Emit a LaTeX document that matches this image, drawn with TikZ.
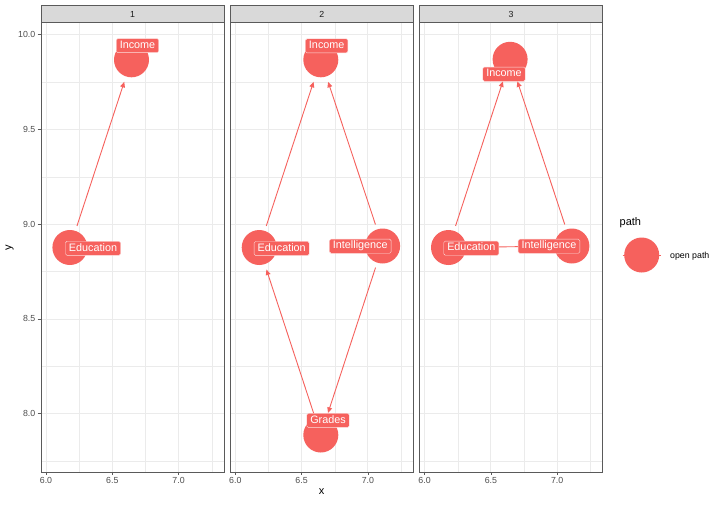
\documentclass[tikz,border=0pt]{standalone}
\usepackage{fontspec}
\setmainfont{Liberation Sans}
\usetikzlibrary{arrows.meta}
\definecolor{nodecol}{HTML}{F6615D}
\definecolor{gridcol}{HTML}{EBEBEB}
\definecolor{stripfill}{HTML}{D9D9D9}
\definecolor{axtext}{HTML}{4D4D4D}
\definecolor{framecol}{HTML}{5A5A5A}
\definecolor{striptext}{HTML}{1A1A1A}
\begin{document}
\begin{tikzpicture}[x=1pt,y=-1pt,
  dagnode/.style={circle,fill=nodecol,minimum size=35pt,inner sep=0pt},
  daglabel/.style={fill=nodecol,draw=white!80!nodecol,line width=0.4pt,rounded corners=1.5pt,
    text=white,font=\fontsize{10.8}{12}\selectfont,inner xsep=3.5pt,inner ysep=2pt,
    text height=7.8pt,text depth=2.3pt},
  dagedge/.style={draw=nodecol,line width=0.9pt,-{Triangle[length=5.5pt,width=4.8pt]},shorten <=5pt,shorten >=5.5pt},
  dagline/.style={draw=nodecol,line width=0.9pt},
  majorgrid/.style={draw=gridcol,line width=0.9pt},
  minorgrid/.style={draw=gridcol,line width=0.45pt},
  frame/.style={draw=framecol,line width=0.6pt},
  ticklab/.style={text=axtext,font=\fontsize{8.8}{10}\selectfont,inner sep=0pt},
  tickmark/.style={draw=framecol,line width=0.6pt},
  striplab/.style={text=striptext,font=\fontsize{8.8}{10}\selectfont,inner sep=0pt},
  axtitle/.style={font=\fontsize{11}{13}\selectfont,inner sep=0pt}
]
\useasboundingbox[fill=white] (0,0) rectangle (720,504);

% panels
\foreach \o/\lab in {0/1,189.3/2,378.6/3}{
  \begin{scope}[xshift=\o]
    % grid
    \foreach \gx in {79.2,145.5,211.8}{\draw[minorgrid] (\gx,22.7) -- (\gx,472);}
    \foreach \gy in {82.1,176.8,271.6,366.3,461.1}{\draw[minorgrid] (41,\gy) -- (224,\gy);}
    \foreach \gx in {46,112.3,178.6}{\draw[majorgrid] (\gx,22.7) -- (\gx,472);}
    \foreach \gy in {34.7,129.5,224.2,318.95,413.7}{\draw[majorgrid] (41,\gy) -- (224,\gy);}
    \draw[frame] (41,22.7) rectangle (224,472);
    % strip
    \draw[frame,fill=stripfill] (41,5.3) rectangle (224,22.7);
    \node[striplab] (strip\lab) at (132.5,14) {\lab};
    % x ticks
    \foreach \gx/\t in {46/6.0,112.3/6.5,178.6/7.0}{
      \draw[tickmark] (\gx,472) -- (\gx,475);
      \node[ticklab,anchor=north] (xt\lab\t) at (\gx,477.5) {\t};
    }
  \end{scope}
}

% y ticks
\foreach \gy/\t in {34.7/10.0,129.5/9.5,224.2/9.0,318.95/8.5,413.7/8.0}{
  \draw[tickmark] (37.5,\gy) -- (41,\gy);
  \node[ticklab,anchor=east] (yt\t) at (35.5,\gy) {\t};
}

% axis titles
\node[axtitle] (xtitle) at (321.5,492) {x};
\node[axtitle,rotate=90] (ytitle) at (9.5,247.5) {y};

% ---- nodes (circles)
% panel 1
\node[dagnode] (e1) at (69.9,247.5) {};
\node[dagnode] (i1) at (131.5,59.8) {};
% panel 2
\node[dagnode] (e2) at (259.2,247.5) {};
\node[dagnode] (i2) at (320.8,59.8) {};
\node[dagnode] (n2) at (382.6,246) {};
\node[dagnode] (g2) at (320.8,435) {};
% panel 3
\node[dagnode] (e3) at (448.5,247.5) {};
\node[dagnode] (i3) at (510.1,59.3) {};
\node[dagnode] (n3) at (571.9,246) {};

% ---- edges
\draw[dagedge] (e1) -- (i1);
\draw[dagedge] (e2) -- (i2);
\draw[dagedge] (n2) -- (i2);
\draw[dagedge] (g2) -- (e2);
\draw[dagedge] (n2) -- (g2);
\draw[dagedge] (e3) -- (i3);
\draw[dagedge] (n3) -- (i3);
\draw[dagline] (e3) -- (n3);

% ---- labels
\node[daglabel] (le1) at (93,248.3) {Education};
\node[daglabel] (li1) at (137.5,45.6) {Income};
\node[daglabel] (le2) at (281.7,248.5) {Education};
\node[daglabel] (li2) at (326.7,45.8) {Income};
\node[daglabel] (ln2) at (360.3,246.2) {Intelligence};
\node[daglabel] (lg2) at (328,420.3) {Grades};
\node[daglabel] (le3) at (471.3,248.2) {Education};
\node[daglabel] (li3) at (504,74.2) {Income};
\node[daglabel] (ln3) at (549,246.2) {Intelligence};

% ---- legend
\node[axtitle,anchor=west] (legtitle) at (619.5,222.5) {path};
\coordinate (kl) at (622.5,255);
\coordinate (kr) at (661,255);
\draw[dagline] (kl) -- (kr);
\node[dagnode] (key) at (641.7,255) {};
\node[ticklab,text=black,anchor=west] (legopen) at (670,256) {open path};
\end{tikzpicture}
\end{document}
